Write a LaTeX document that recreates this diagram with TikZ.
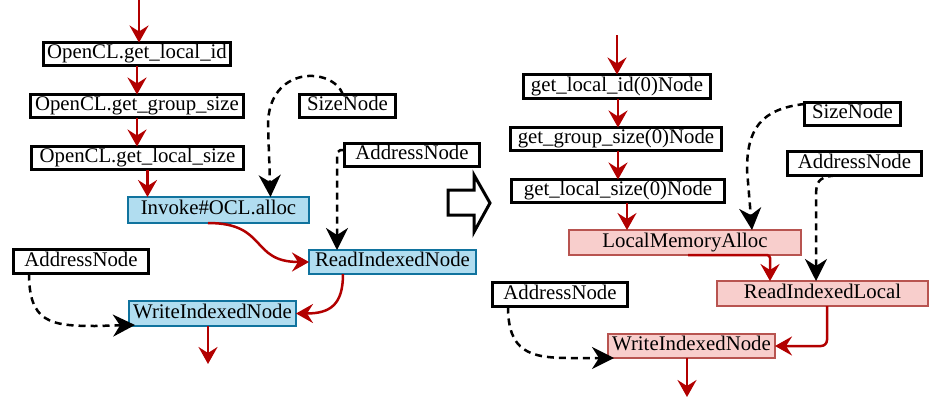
\documentclass[tikz,border=0pt]{standalone}
\usepackage{fontspec}
\setmainfont{Liberation Serif}
\usetikzlibrary{arrows.meta,calc}

\definecolor{flowred}{HTML}{B20000}
\definecolor{oldfill}{HTML}{B1DDF0}
\definecolor{olddraw}{HTML}{10739E}
\definecolor{newfill}{HTML}{F8CECC}
\definecolor{newdraw}{HTML}{B85450}

\begin{document}
\begin{tikzpicture}[x=1pt,y=-1pt,
  box/.style={draw, rectangle, inner sep=0pt, outer sep=0pt,
    font=\fontsize{20.8}{25}\selectfont, text height=14pt, text depth=4.4pt},
  plainbox/.style={box, line width=3pt, fill=white},
  oldbox/.style={box, line width=2.2pt, draw=olddraw, fill=oldfill},
  newbox/.style={box, line width=2.2pt, draw=newdraw, fill=newfill},
  flow/.style={draw=flowred, line width=2.5pt,
    -{Stealth[length=17pt,width=19pt,inset=6pt]}},
  dep/.style={draw=black, line width=2.5pt, dash pattern=on 7pt off 5pt,
    -{Stealth[length=22pt,width=22pt,inset=7pt]}},
  hollow/.style={draw=black, line width=3pt, fill=white, line join=miter},
]
\useasboundingbox (0,0) rectangle (930,402);

% ---- before: OpenCL calls ----
\node[plainbox, minimum width=187pt, minimum height=23pt] (l1) at (137,54) {OpenCL.get\_local\_id};
\node[plainbox, minimum width=213pt, minimum height=23pt] (l2) at (137,106) {OpenCL.get\_group\_size};
\node[plainbox, minimum width=212pt, minimum height=23pt] (l3) at (137.5,158) {OpenCL.get\_local\_size};
\node[oldbox, minimum width=181pt, minimum height=26pt] (inv) at (218.5,210) {Invoke\#OCL.alloc};
\node[plainbox, minimum width=96pt, minimum height=23pt] (s1) at (347.5,106) {SizeNode};
\node[plainbox, minimum width=135pt, minimum height=23pt] (a1) at (412,155) {AddressNode};
\node[oldbox, minimum width=167pt, minimum height=24pt] (rd1) at (392.5,262) {ReadIndexedNode};
\node[plainbox, minimum width=135pt, minimum height=24pt] (a2) at (81,261.5) {AddressNode};
\node[oldbox, minimum width=167pt, minimum height=25pt] (w1) at (212.5,313.5) {WriteIndexedNode};

% ---- after: lowered nodes ----
\node[plainbox, minimum width=187pt, minimum height=24pt] (r1) at (617,86.5) {get\_local\_id(0)Node};
\node[plainbox, minimum width=211pt, minimum height=23pt] (r2) at (616,139) {get\_group\_size(0)Node};
\node[plainbox, minimum width=213pt, minimum height=23pt] (r3) at (618,191) {get\_local\_size(0)Node};
\node[newbox, minimum width=232pt, minimum height=25pt] (lma) at (685,242.5) {LocalMemoryAlloc};
\node[plainbox, minimum width=96pt, minimum height=23pt] (s2) at (852.5,114) {SizeNode};
\node[plainbox, minimum width=134pt, minimum height=24pt] (a3) at (854.5,163.5) {AddressNode};
\node[newbox, minimum width=211pt, minimum height=25pt] (ril) at (822.5,293.5) {ReadIndexedLocal};
\node[plainbox, minimum width=135pt, minimum height=24pt] (a4) at (560,294.5) {AddressNode};
\node[newbox, minimum width=167pt, minimum height=24pt] (w2) at (691.5,346) {WriteIndexedNode};

% ---- transformation arrow ----
\draw[hollow] (448,190) -- (474,190) -- (474,175) -- (490,203) -- (474,232)
  -- (474,215) -- (448,215) -- cycle;

% ---- edges, left graph ----
\coordinate (inL) at (139,0);
\draw[flow] (inL) -- (inL |- l1.north);
\draw[flow] (l1.south) -- (l1.south |- l2.north);
\draw[flow] (l2.south) -- (l2.south |- l3.north);
\coordinate (l3out) at ($(l3.south)+(10,0)$);
\draw[flow] (l3out) -- (l3out |- inv.north);
\draw[dep] ($(s1.north)+(-4.5,0)$) .. controls (332,66) and (268,66) .. (268,125)
  -- ($(inv.north)+(52,0)$);
\draw[dep] ($(a1.west)+(0,-5)$) .. controls (337,150) .. (337,165)
  -- ($(rd1.north)+(-55.5,0)$);
\draw[flow] ($(inv.south)+(-10.5,0)$) .. controls (268,223) and (250,262) .. (rd1.west);
\draw[dep] ($(a2.south)+(-52,0)$) .. controls (29,322) and (50,326) .. (95,326)
  -- ($(w1.south west)+(6,-1)$);
\draw[flow] ($(rd1.south)+(-49.5,0)$) .. controls (343,305) and (330,313.5) .. (w1.east);
\coordinate (outL) at ($(w1.south)+(-4.5,38)$);
\draw[flow] (w1.south -| outL) -- (outL);

% ---- edges, right graph ----
\coordinate (inR) at (617,35);
\draw[flow] (inR) -- (inR |- r1.north);
\coordinate (colR) at (618,0);
\draw[flow] (r1.south -| colR) -- (r2.north -| colR);
\draw[flow] (r2.south -| colR) -- (r3.north -| colR);
\coordinate (r3out) at (627,0);
\draw[flow] (r3.south -| r3out) -- (lma.north -| r3out);
\draw[dep] ($(s2.west)+(0,-10)$) .. controls (760,109) and (747,130) .. (747,170)
  -- ($(lma.north)+(67,0)$);
\draw[dep] ($(a3.south)+(-19.5,0)$) .. controls (818,177) and (816,182) .. (816,197)
  -- ($(ril.north)+(-6.5,0)$);
\draw[flow, rounded corners=3pt] ($(lma.south)+(3,0)$) -| ($(ril.north)+(-52.5,0)$);
\draw[dep] ($(a4.south)+(-52,0)$) .. controls (508,352) and (530,358) .. (570,358)
  -- ($(w2.south west)+(6,0)$);
\draw[flow, rounded corners=6pt] ($(ril.south)+(4.5,0)$) |- (w2.east);
\coordinate (outR) at (687,397);
\draw[flow] (w2.south -| outR) -- (outR);
\end{tikzpicture}
\end{document}
